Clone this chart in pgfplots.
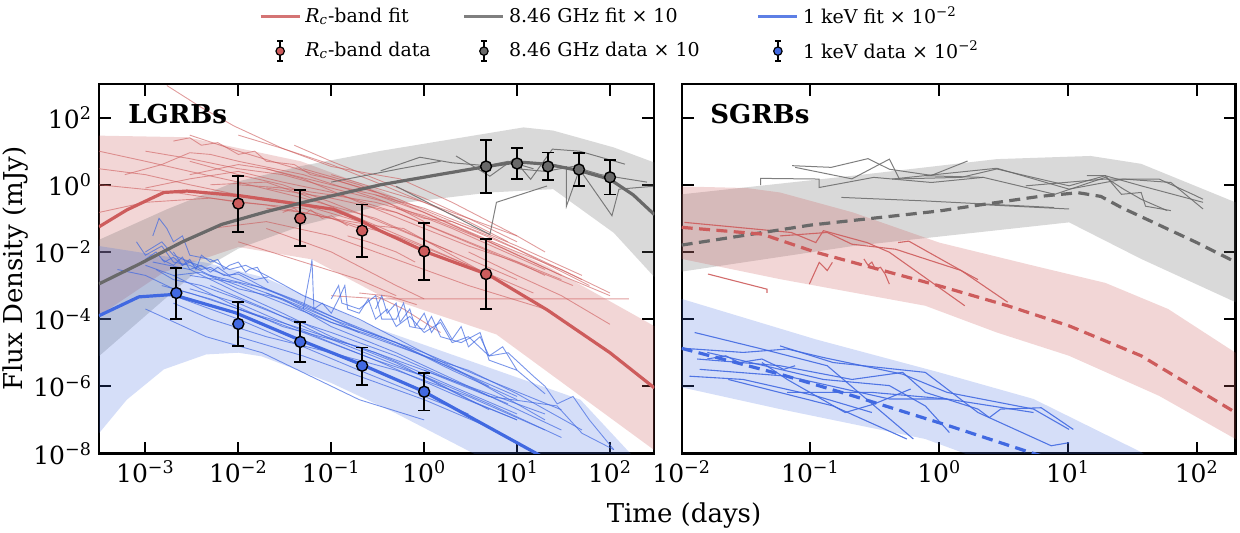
\documentclass[border=0pt]{standalone}
\usepackage{fontspec}
\setmainfont{DejaVu Serif}
\usepackage{pgfplots}
\pgfplotsset{compat=1.18}
\definecolor{cred}{RGB}{205,92,92}
\definecolor{cgray}{RGB}{105,105,105}
\definecolor{cblue}{RGB}{65,105,225}
\pgfplotsset{
  bandR/.style={fill=cred, fill opacity=0.25, draw=none, forget plot},
  bandG/.style={fill=cgray, fill opacity=0.25, draw=none, forget plot},
  bandB/.style={fill=cblue, fill opacity=0.22, draw=none, forget plot},
  thR/.style={cred, line width=0.45pt, opacity=0.6, forget plot},
  thG/.style={cgray, line width=0.5pt, opacity=0.85, forget plot},
  thB/.style={cblue, line width=0.45pt, opacity=0.7, forget plot},
  thRR/.style={cred, line width=0.55pt, opacity=0.9, forget plot},
  thBR/.style={cblue, line width=0.55pt, opacity=0.9, forget plot},
}
\begin{document}
\begin{tikzpicture}
\useasboundingbox (-49.5pt,-39.75pt) rectangle (570.5pt,226.75pt);
% ================= LEFT PANEL =================
\begin{loglogaxis}[scale only axis, width=277.65pt, height=184.75pt,
  xmin=3.1623e-4, xmax=300, ymin=1e-8, ymax=1e3,
  xminorticks=false, yminorticks=false,
  tick align=inside, major tick length=6pt,
  tick style={black, line width=1pt},
  axis line style={line width=1.1pt},
  tick label style={font=\fontsize{12.5}{14}\selectfont},
  ytick={1e-8,1e-6,1e-4,1e-2,1,1e2},
  xtick={1e-3,1e-2,1e-1,1,1e1,1e2},
  xticklabels={10\textsuperscript{−3},10\textsuperscript{−2},10\textsuperscript{−1},10\textsuperscript{0},10\textsuperscript{1},10\textsuperscript{2}},
  yticklabels={10\textsuperscript{−8},10\textsuperscript{−6},10\textsuperscript{−4},10\textsuperscript{−2},10\textsuperscript{0},10\textsuperscript{2}},
  legend columns=3,
  legend cell align=left,
  legend style={at={(0.940,1.222)}, anchor=north, draw=none, fill=none,
    font=\fontsize{9.5}{11}\selectfont, inner sep=0pt, row sep=3pt,
    /tikz/column 2/.style={column sep=14pt},
    /tikz/column 4/.style={column sep=26.5pt}},
]
\addlegendimage{legend image code/.code={\draw[cred, line width=1.6pt, opacity=0.85] (0pt,0pt) -- (19.5pt,0pt);}}
\addlegendimage{legend image code/.code={\draw[cgray, line width=1.6pt, opacity=0.85] (0pt,0pt) -- (19.5pt,0pt);}}
\addlegendimage{legend image code/.code={\draw[cblue, line width=1.6pt, opacity=0.85] (0pt,0pt) -- (19.5pt,0pt);}}
\addlegendimage{legend image code/.code={\draw[black, line width=0.8pt] (9.75pt,-5pt) -- (9.75pt,5pt) (8.25pt,5pt) -- (11.25pt,5pt) (8.25pt,-5pt) -- (11.25pt,-5pt); \filldraw[fill=cred, draw=black, line width=0.6pt] (9.75pt,0pt) circle (2.1pt);}}
\addlegendimage{legend image code/.code={\draw[black, line width=0.8pt] (9.75pt,-5pt) -- (9.75pt,5pt) (8.25pt,5pt) -- (11.25pt,5pt) (8.25pt,-5pt) -- (11.25pt,-5pt); \filldraw[fill=cgray, draw=black, line width=0.6pt] (9.75pt,0pt) circle (2.1pt);}}
\addlegendimage{legend image code/.code={\draw[black, line width=0.8pt] (9.75pt,-5pt) -- (9.75pt,5pt) (8.25pt,5pt) -- (11.25pt,5pt) (8.25pt,-5pt) -- (11.25pt,-5pt); \filldraw[fill=cblue, draw=black, line width=0.6pt] (9.75pt,0pt) circle (2.1pt);}}
\legend{{\textit{R}\textsubscript{\textit{c}}-band fit},{8.46 GHz fit × 10},{1 keV fit × 10\textsuperscript{−2}},{\textit{R}\textsubscript{\textit{c}}-band data},{8.46 GHz data × 10},{1 keV data × 10\textsuperscript{−2}}}

% ---- bands
\addplot[bandR] coordinates {(3.1623e-4,29) (2.8e-3,26) (0.047,5) (0.34,0.66) (21,3.8e-3) (300,6.2e-5)
  (300,1.26e-8) (6,3.5e-5) (0.34,5e-4) (0.062,6e-3) (0.01,0.014) (1.58e-3,2.5e-3) (3.1623e-4,1.26e-4)};
\addplot[bandG] coordinates {(3.1623e-4,0.023) (1.7e-3,0.186) (8.9e-3,1.17) (0.047,3.6) (0.34,10.2) (11.7,51) (24.5,41) (110,12.9) (300,4.6)
  (300,1.8e-3) (110,0.037) (24.5,0.74) (5.1,0.59) (0.34,0.24) (0.05,0.063) (0.01,0.0126) (3.16e-3,2e-3) (1e-3,1.26e-4) (3.1623e-4,7.9e-6)};
\addplot[bandB] coordinates {(3.1623e-4,0.015) (4.5e-3,4.8e-3) (0.0195,1.7e-3) (0.34,4.9e-5) (48,4e-7) (166,1e-8) (300,2.5e-9)
  (300,1e-10) (10,2e-9) (3.7,8.9e-9) (0.49,1.6e-7) (0.1,1.26e-6) (0.0178,7.8e-6) (0.01,1e-5) (4.5e-3,8.9e-6) (1.58e-3,3.2e-6) (6.3e-4,4e-7) (3.1623e-4,4e-8)};

% ---- thin R-band light curves
\addplot[thR] coordinates {(1.7e-3,900) (4e-3,200) (9e-3,56) (0.03,12) (0.1,3.5) (0.3,2) (0.55,1.5) (2,0.3) (10,0.03)};
\addplot[thR] coordinates {(3.1623e-4,10) (1e-3,5) (3e-3,2.5) (0.01,1.2) (0.05,0.4) (0.3,0.1) (2,0.01) (10,1.5e-3)};
\addplot[thR] coordinates {(6e-4,2) (1.5e-3,4) (3e-3,9) (5e-3,8) (0.01,5) (0.05,2) (0.3,0.4) (2,0.05) (20,3e-3)};
\addplot[thR] coordinates {(1e-3,0.8) (3e-3,1.5) (0.01,2.5) (0.03,1.2) (0.1,0.6) (0.5,0.15) (3,0.02) (30,1.5e-3)};
\addplot[thR] coordinates {(3.1623e-4,0.15) (1e-3,0.3) (5e-3,0.4) (0.02,0.25) (0.1,0.1) (0.5,0.03) (3,4e-3) (15,6e-4)};
\addplot[thR] coordinates {(3e-3,30) (0.01,10) (0.03,4) (0.1,1.5) (0.5,0.4) (2,0.08) (10,0.012) (60,1e-3)};
\addplot[thR] coordinates {(5e-3,0.05) (0.02,0.08) (0.1,0.03) (0.5,6e-3) (3,1e-3) (20,2e-4)};
\addplot[thR] coordinates {(0.01,1) (0.03,0.8) (0.1,0.5) (0.3,0.3) (1,0.12) (5,0.02) (30,2e-3) (100,5e-4)};
\addplot[thR] coordinates {(0.02,3) (0.1,1) (0.3,0.5) (1,0.2) (3,0.06) (10,0.015) (50,2e-3)};
\addplot[thR] coordinates {(0.04,15) (0.1,5) (0.3,1.5) (1,0.4) (3,0.1) (10,0.02)};
\addplot[thR] coordinates {(0.01,0.02) (0.05,5e-3) (0.2,1.5e-3) (0.5,5e-4)};
\addplot[thR] coordinates {(0.1,5e-4) (0.34,4e-4) (160,4e-4)};
\addplot[thR] coordinates {(0.3,0.5) (1,0.15) (3,0.04) (10,0.01) (30,3e-3) (100,6e-4)};
\addplot[thR] coordinates {(1,0.05) (3,0.015) (10,5e-3) (20,2e-3)};
\addplot[thR] coordinates {(0.02,0.2) (0.05,0.15) (0.1,0.1) (0.3,0.06) (0.6,0.05) (2,8e-3) (5,2e-3)};
\addplot[thR] coordinates {(0.15,0.03) (0.25,0.02) (0.5,0.01) (0.8,5e-3)};
\addplot[thR] coordinates {(3e-3,2) (0.01,4) (0.02,3) (0.05,1.5) (0.2,0.3) (1,0.05)};
\addplot[thR] coordinates {(0.01,30) (0.03,12) (0.1,4) (0.3,1.2) (1,0.3) (3,0.08) (8,0.02)};
\addplot[thR] coordinates {(5e-3,1) (0.02,1.2) (0.05,0.5) (0.2,0.1) (1,0.015) (3,4e-3)};
\addplot[thR] coordinates {(0.02,0.8) (0.1,0.4) (0.5,0.15) (2,0.03) (8,6e-3) (40,1e-3)};
\addplot[thR] coordinates {(0.1,2) (0.3,0.8) (1,0.3) (3,0.1) (10,0.03) (20,0.01)};
\addplot[thR] coordinates {(0.5,0.2) (1,0.1) (2,0.08) (5,0.03) (20,5e-3) (50,1.5e-3)};
\addplot[thR] coordinates {(0.03,0.15) (0.04,0.2) (0.05,0.12) (0.06,0.18) (0.08,0.1) (0.1,0.12) (0.15,0.06)};
\addplot[thR] coordinates {(3.1623e-4,3) (1e-3,2) (3e-3,1) (0.01,0.5) (0.04,0.3) (0.2,0.08)};
\addplot[thR] coordinates {(0.02,0.05) (0.1,0.01) (0.5,1e-3) (1,4e-4)};
\addplot[thR] coordinates {(0.2,6e-4) (0.43,4.8e-4) (0.83,2.7e-4)};
\addplot[thR] coordinates {(0.3,5e-4) (0.6,2e-4) (1.5,4e-5)};
\addplot[thR] coordinates {(3,0.01) (10,2e-3) (30,5e-4) (100,7e-5)};
\addplot[thR] coordinates {(3.1623e-4,1) (2e-3,0.6) (0.01,0.3) (0.05,0.2) (0.2,0.05)};
\addplot[thR] coordinates {(2e-3,20) (3e-3,25) (4e-3,15) (6e-3,18) (0.01,8) (0.015,10) (0.02,5) (0.04,4) (0.06,2) (0.1,1.5) (0.3,0.6)};
\addplot[thR] coordinates {(3e-3,5) (0.01,2) (0.03,1) (0.1,0.3) (0.5,0.05) (2,0.01)};
\addplot[thR] coordinates {(0.05,3) (0.2,1) (1,0.15) (5,0.02) (30,2e-3)};
\addplot[thR] coordinates {(1e-3,10) (3e-3,6) (0.01,3) (0.03,2) (0.1,0.8) (0.4,0.3) (1,0.08)};

% ---- thin X-ray light curves
\addplot[thB] coordinates {(1.2e-3,0.03) (1.4e-3,0.1) (1.7e-3,0.05) (2e-3,0.02) (2.5e-3,0.03) (3e-3,8e-3) (5e-3,6e-3) (8e-3,3e-3) (0.012,4e-3) (0.02,2e-3) (0.05,5e-4) (0.2,1e-4) (1,1e-5) (5,1e-6)};
\addplot[thB] coordinates {(2e-3,0.01) (2.5e-3,0.004) (3e-3,0.006) (3.5e-3,0.003) (4e-3,0.008) (5e-3,0.005) (6e-3,0.006) (7e-3,0.003) (8e-3,0.004) (0.01,0.005) (0.012,0.0025) (0.013,0.003) (0.016,0.0035) (0.018,0.002) (0.021,0.0012)};
\addplot[thB] coordinates {(1.5e-3,6e-3) (2e-3,4e-3) (2.5e-3,7e-3) (3e-3,3e-3) (4e-3,4e-3) (5e-3,2.5e-3) (6e-3,3.5e-3) (8e-3,2e-3) (0.01,2.5e-3) (0.015,1.5e-3) (0.021,1.8e-3)};
\addplot[thB] coordinates {(8e-4,0.02) (1e-3,8e-3) (1.5e-3,0.015) (2e-3,5e-3) (3e-3,4e-3) (5e-3,2e-3) (0.01,1e-3) (0.03,3e-4) (0.1,8e-5) (1,8e-6) (10,5e-7)};
\addplot[thB] coordinates {(1e-3,4e-3) (2e-3,2e-3) (4e-3,2.5e-3) (0.01,8e-4) (0.03,4e-4) (0.1,1e-4) (0.5,2e-5) (3,2e-6) (20,1e-7)};
\addplot[thB] coordinates {(1.5e-3,1e-3) (3e-3,6e-4) (0.01,2e-4) (0.05,5e-5) (0.3,1e-5) (2,1e-6) (10,1.5e-7)};
\addplot[thB] coordinates {(2e-3,3e-4) (5e-3,1e-4) (0.02,3e-5) (0.1,1e-5) (0.5,3e-6) (3,5e-7) (20,5e-8)};
\addplot[thB] coordinates {(1e-3,2e-4) (4.5e-3,3e-5) (0.018,1e-5) (0.2,4e-7) (1,1e-7)};
\addplot[thB] coordinates {(2e-3,5e-4) (0.01,1e-4) (0.05,1.5e-5) (0.2,3e-6) (1,5e-7) (3,1.5e-7)};
\addplot[thB] coordinates {(0.01,3e-5) (0.05,8e-6) (0.2,2e-6) (1,4e-7) (5,6e-8)};
\addplot[thB] coordinates {(0.05,2e-4) (0.06,3e-3) (0.062,6e-3) (0.065,2e-4) (0.08,3e-4) (0.1,1.5e-4) (0.12,4e-4) (0.14,1e-3) (0.15,2e-4) (0.2,1.5e-4) (0.25,4e-4) (0.3,1e-4) (0.4,2e-4) (0.5,6e-5) (0.7,1.2e-4) (1,4e-5) (1.5,8e-5) (2,2e-5) (3,3e-5) (5,8e-6) (8,1e-5) (15,2e-6) (20,1e-6) (27,3e-7) (40,5e-7) (60,1e-7) (110,1.3e-8)};
\addplot[thB] coordinates {(0.1,4e-4) (0.12,1e-3) (0.13,3e-4) (0.2,2e-4) (0.3,5e-4) (0.35,1e-4) (0.5,1e-4) (0.6,3e-4) (0.7,6e-5) (1,5e-5) (1.2,1.2e-4) (1.5,3e-5) (2.5,2e-5) (4,4e-5) (5,6e-6) (10,3e-6) (20,6e-7)};
\addplot[thB] coordinates {(3e-3,2e-3) (0.01,1.2e-3) (0.03,4e-4) (0.1,6e-5) (0.5,1e-5) (3,1e-6) (30,5e-8)};
\addplot[thB] coordinates {(1.2e-3,5e-3) (3e-3,3e-3) (0.01,6e-4) (0.03,1.5e-4) (0.1,3e-5) (0.5,5e-6) (3,4e-7) (10,1e-7)};
\addplot[thB] coordinates {(5e-3,2e-3) (0.02,8e-4) (0.05,3e-4) (0.2,5e-5) (1,1e-5) (5,1.5e-6) (30,2e-7)};
\addplot[thB] coordinates {(2e-3,2e-3) (8e-3,3e-4) (0.03,6e-5) (0.2,1.5e-5) (2,1.5e-6) (20,1.5e-7)};
\addplot[thB] coordinates {(0.01,2e-4) (0.05,4e-5) (0.3,6e-6) (2,6e-7) (10,1e-7)};
\addplot[thB] coordinates {(5e-4,3e-3) (1e-3,2e-3) (2e-3,8e-4) (5e-3,4e-4) (0.02,1e-4)};
\addplot[thB] coordinates {(1,3e-6) (5,5e-7) (27,2.6e-7) (50,4e-8) (110,1.3e-8)};
\addplot[thB] coordinates {(1e-3,1e-2) (1.5e-3,2e-2) (2e-3,8e-3) (3e-3,5e-3) (5e-3,3e-3) (0.01,1.5e-3) (0.03,5e-4) (0.1,1.2e-4) (0.5,2e-5) (2,3e-6) (10,4e-7)};
\addplot[thB] coordinates {(1.3e-3,3e-3) (2e-3,1.5e-3) (4e-3,1e-3) (0.01,4e-4) (0.03,1.2e-4) (0.1,4e-5) (0.5,8e-6) (2,1.5e-6) (8,3e-7)};
\addplot[thB] coordinates {(3e-3,8e-4) (0.01,3e-4) (0.03,8e-5) (0.1,2e-5) (0.3,6e-6) (1,2e-6) (5,3e-7) (30,3e-8)};
\addplot[thB] coordinates {(1e-3,6e-3) (1.3e-3,1e-2) (1.6e-3,5e-3) (2e-3,7e-3) (2.5e-3,4e-3) (3e-3,5e-3) (4e-3,3e-3) (5e-3,3.5e-3) (7e-3,2e-3) (0.01,2.2e-3) (0.02,8e-4) (0.05,2.5e-4) (0.2,4e-5)};
\addplot[thB] coordinates {(0.02,6e-4) (0.05,2e-4) (0.1,8e-5) (0.3,3e-5) (1,8e-6) (3,3e-6) (10,6e-7) (50,5e-8)};
\addplot[thB] coordinates {(0.3,2e-4) (0.35,5e-4) (0.4,1.5e-4) (0.5,3e-4) (0.55,8e-5) (0.7,2e-4) (0.8,6e-5) (1,1.5e-4) (1.2,4e-5) (1.5,1e-4) (2,2.5e-5) (2.5,6e-5) (3,1.5e-5) (4,3e-5) (5,8e-6) (7,1.5e-5) (10,3e-6)};
\addplot[thB] coordinates {(0.005,1e-3) (0.02,2e-4) (0.1,2.5e-5) (1,2e-6) (5,2e-7)};

% ---- thin radio light curves
\addplot[thG] coordinates {(0.34,2.6) (0.9,6.6) (2,4.5) (4.7,3.7) (8,5) (15,3)};
\addplot[thG] coordinates {(2.2,7.2) (5.1,1.8) (9.2,5.8) (14,1.45) (24,11.5) (47,10) (145,4.1)};
\addplot[thG] coordinates {(34,3.6) (34,0.23) (47,2.9) (105,0.12) (125,0.74) (290,0.9)};
\addplot[thG] coordinates {(0.5,0.9) (5.1,0.033) (6,0.3) (21,0.92)};
\addplot[thG] coordinates {(0.1,1.2) (0.55,3) (1.5,5)};
\addplot[thG] coordinates {(10,3) (20,2.5) (40,3.5) (80,2) (150,1.5) (250,1.2)};

% ---- fits
\addplot[cred, line width=1.6pt, forget plot] coordinates {(3.1623e-4,0.056) (6.3e-4,0.178) (1.58e-3,0.59) (2.8e-3,0.65) (0.0105,0.47) (0.047,0.26) (0.105,0.186) (0.2,0.089) (0.34,0.042) (0.55,0.023) (1.05,0.01) (4.9,2.1e-3) (21,1.9e-4) (100,1e-5) (300,9e-7)};
\addplot[cgray, line width=1.6pt, forget plot] coordinates {(3.1623e-4,1.12e-3) (8.5e-4,4.3e-3) (2.5e-3,0.02) (6.6e-3,0.066) (0.02,0.158) (0.058,0.33) (0.34,1.0) (1.58,2.1) (4.7,3.5) (10,4.8) (21,4.1) (48,2.6) (100,1.45) (178,0.5) (300,0.13)};
\addplot[cblue, line width=1.6pt, forget plot] coordinates {(3.1623e-4,1.26e-4) (8.5e-4,4.6e-4) (1.95e-3,5.4e-4) (9.3e-3,1.55e-4) (0.045,2.45e-5) (0.214,4.4e-6) (1,6.9e-7) (16.2,1e-8) (40,2.5e-9)};

% ---- data
\addplot[only marks, mark=*, mark size=2.75pt, forget plot,
    mark options={fill=cred, draw=black, line width=0.7pt},
    error bars/.cd, y dir=both, y explicit,
    error bar style={black, line width=0.9pt},
    error mark options={rotate=90, black, line width=0.9pt, mark size=3pt}]
  table[row sep=\\, x=t, y=f, y error plus=ep, y error minus=em] {
t f ep em \\
0.01 0.275 1.525 0.236 \\
0.0464 0.10 0.60 0.085 \\
0.215 0.043 0.217 0.036 \\
1.0 0.0105 0.0605 0.009 \\
4.64 0.0022 0.0218 0.002 \\
};
\addplot[only marks, mark=*, mark size=2.75pt, forget plot,
    mark options={fill=cgray, draw=black, line width=0.7pt},
    error bars/.cd, y dir=both, y explicit,
    error bar style={black, line width=0.9pt},
    error mark options={rotate=90, black, line width=0.9pt, mark size=3pt}]
  table[row sep=\\, x=t, y=f, y error plus=ep, y error minus=em] {
t f ep em \\
4.64 3.5 18.3 2.94 \\
10 4.3 8.0 2.84 \\
21.5 3.5 5.6 2.14 \\
46.4 2.85 5.85 1.95 \\
100 1.67 3.73 1.16 \\
};
\addplot[only marks, mark=*, mark size=2.75pt, forget plot,
    mark options={fill=cblue, draw=black, line width=0.7pt},
    error bars/.cd, y dir=both, y explicit,
    error bar style={black, line width=0.9pt},
    error mark options={rotate=90, black, line width=0.9pt, mark size=3pt}]
  table[row sep=\\, x=t, y=f, y error plus=ep, y error minus=em] {
t f ep em \\
0.00215 6.0e-4 2.8e-3 4.97e-4 \\
0.01 7.2e-5 2.58e-4 5.65e-5 \\
0.0464 2.1e-5 6.2e-5 1.56e-5 \\
0.215 4.1e-6 1.03e-5 3.0e-6 \\
1.0 6.9e-7 1.81e-6 5.0e-7 \\
};
\node[anchor=base west, inner sep=0pt, font=\fontsize{13}{15}\selectfont\bfseries] at (rel axis cs:0.052,0.894) {LGRBs};
\end{loglogaxis}

% ================= RIGHT PANEL =================
\begin{loglogaxis}[at={(291.35pt,0pt)}, anchor=south west,
  scale only axis, width=276.9pt, height=184.75pt,
  xmin=0.01, xmax=200, ymin=1e-8, ymax=1e3,
  xminorticks=false, yminorticks=false,
  tick align=inside, major tick length=6pt,
  tick style={black, line width=1pt},
  axis line style={line width=1.1pt},
  tick label style={font=\fontsize{12.5}{14}\selectfont},
  ytick={1e-8,1e-6,1e-4,1e-2,1,1e2},
  xtick={1e-2,1e-1,1,1e1,1e2},
  xticklabels={10\textsuperscript{−2},10\textsuperscript{−1},10\textsuperscript{0},10\textsuperscript{1},10\textsuperscript{2}},
  yticklabels={},
]
\addplot[bandG] coordinates {(0.01,0.52) (0.214,1.86) (2.8,5.8) (15,7.2) (37,4.2) (200,0.3)
  (200,3.2e-4) (37,6.2e-3) (10.2,0.076) (0.214,0.015) (0.01,2.6e-3)};
\addplot[bandR] coordinates {(0.01,0.89) (0.032,0.8) (0.058,0.59) (0.214,0.15) (1,0.019) (5.4,3.9e-3) (19.5,1.2e-3) (60,2e-4) (200,1e-5)
  (200,2.7e-8) (51,5.2e-7) (10.2,8.1e-6) (2.8,4e-5) (0.78,2.5e-4) (0.058,1.55e-3) (0.01,6.2e-3)};
\addplot[bandB] coordinates {(0.01,4e-4) (0.11,2.5e-5) (1,2.6e-6) (5.4,4.2e-7) (37,1.1e-8) (200,1e-10)
  (200,1e-11) (2.5,5e-9) (1.48,1.1e-8) (0.78,2.7e-8) (0.058,2.1e-7) (0.01,9.3e-7)};

% radio
\addplot[thG] coordinates {(0.072,3.7) (0.145,3.3) (0.28,6.0) (0.41,2.9) (0.87,1.9) (1.66,5.1)};
\addplot[thG] coordinates {(0.076,3.3) (0.21,1.5) (0.41,5.8) (0.49,1.5) (1.48,1.66) (2.8,2.95) (10.2,0.93) (19.5,1.86) (37,0.93) (112,0.30)};
\addplot[thG] coordinates {(0.041,0.98) (0.041,1.55) (0.117,1.48) (0.117,0.83) (0.31,1.66) (0.87,1.17) (2.2,1.66)};
\addplot[thG] coordinates {(0.174,0.42) (0.78,0.33) (7.8,0.21)};
\addplot[thG] coordinates {(0.43,1.48) (2.8,3.1) (10.2,0.74) (27,1.48) (63,1.17) (112,0.19)};
\addplot[thG] coordinates {(0.78,1.86) (2.2,1.66) (7.9,0.52) (19.5,1.66) (27,0.74) (37,0.37) (59,0.17)};
\addplot[thG] coordinates {(4.7,0.93) (19.5,1.48) (51,1.48) (93,0.52) (112,0.37)};
\addplot[thG] coordinates {(2.0,0.26) (10.2,0.19)};
\addplot[thG] coordinates {(14,1.86) (19.5,1.86) (26,0.52) (37,0.59) (40,0.23) (63,0.17)};
% optical
\addplot[thRR] coordinates {(0.0105,0.076) (0.071,0.038) (0.11,0.019) (0.126,0.043) (0.275,0.019) (0.41,0.0098) (1.58,2.5e-4)};
\addplot[thRR] coordinates {(0.058,0.030) (0.135,0.038) (0.21,0.017) (0.46,0.012) (0.78,0.0062) (1.48,0.0028) (3.4,3.2e-4)};
\addplot[thRR] coordinates {(0.48,0.019) (0.58,0.021) (1.48,0.0028) (2.0,0.0015)};
\addplot[thRR] coordinates {(0.098,0.0011) (0.117,0.0049) (0.135,0.0028) (0.148,0.0049)};
\addplot[thRR] coordinates {(0.26,0.0062) (0.28,0.004) (0.3,0.005) (0.32,0.003) (0.35,0.0035) (0.38,0.0022) (0.41,0.0011)};
\addplot[thRR] coordinates {(0.016,0.0022) (0.046,7.8e-4) (0.046,6e-4)};
% X-ray
\addplot[thBR] coordinates {(0.0126,4e-5) (0.042,1.29e-5) (0.135,4.1e-6) (0.63,2.7e-8)};
\addplot[thBR] coordinates {(0.0105,1.35e-5) (0.030,1.02e-5) (0.066,1.29e-5) (0.126,7.2e-6) (0.52,2.3e-6) (1.15,6.6e-7) (5.4,2.1e-7) (10.2,5.2e-8)};
\addplot[thBR] coordinates {(0.0132,6.5e-6) (0.058,4.1e-6) (0.21,1.6e-6) (0.52,2.6e-6) (0.78,6.6e-7) (2.0,2.1e-7) (2.45,1.17e-7) (3.0,2.1e-7) (6.2,2.3e-7) (11,5.2e-8)};
\addplot[thBR] coordinates {(0.0138,3.2e-6) (0.066,2.0e-6) (0.41,4.2e-7) (1.15,4.2e-7) (5.4,1.66e-7)};
\addplot[thBR] coordinates {(0.023,1.6e-6) (0.15,2.6e-7) (0.56,2.7e-8)};
\addplot[thBR] coordinates {(0.066,6.6e-7) (0.30,6.6e-7) (1.15,4.2e-7)};
\addplot[thBR] coordinates {(0.0158,1.02e-5) (0.058,3.2e-6) (0.126,1.6e-6) (0.41,1.05e-6) (0.78,2.6e-7) (1.2,4.2e-8)};
\addplot[thBR] coordinates {(0.042,5.1e-6) (0.066,1.6e-6) (0.186,1.66e-7) (0.31,2.95e-7) (0.60,8.3e-7)};
\addplot[thBR] coordinates {(0.058,1.6e-5) (0.15,5.1e-6) (0.78,2.6e-6) (2.0,1.66e-7) (7.4,1.7e-8) (10.2,2.1e-8)};
\addplot[thBR] coordinates {(0.0115,2.0e-6) (0.030,1.6e-6) (0.11,5.2e-7) (0.30,1.66e-7)};
\addplot[thBR] coordinates {(0.0158,6.5e-6) (0.022,8.1e-6) (0.028,5.1e-6) (0.042,6.5e-6) (0.062,3.2e-6) (0.076,4.1e-6)};

% fits
\addplot[cgray, line width=1.6pt, dash pattern=on 5.5pt off 3.2pt, forget plot] coordinates {(0.01,0.016) (0.1,0.063) (1,0.166) (2.2,0.26) (6,0.45) (12,0.58) (18,0.45) (26,0.21) (46,0.076) (100,0.019) (200,5e-3)};
\addplot[cred, line width=1.6pt, dash pattern=on 5.5pt off 3.2pt, forget plot] coordinates {(0.01,0.054) (0.042,0.034) (0.11,9.8e-3) (1,9.8e-4) (3.4,2.5e-4) (10.2,6.3e-5) (37,8.1e-6) (200,1.66e-7)};
\addplot[cblue, line width=1.6pt, dash pattern=on 5.5pt off 3.2pt, forget plot] coordinates {(0.01,1.35e-5) (0.058,2.3e-6) (0.214,5.2e-7) (1.2,6.6e-8) (5,1.1e-8) (8,6.3e-9)};
\node[anchor=base west, inner sep=0pt, font=\fontsize{13}{15}\selectfont\bfseries] at (rel axis cs:0.051,0.894) {SGRBs};
\end{loglogaxis}

\node[rotate=90, font=\fontsize{13}{15}\selectfont] at (-41.5pt,92.4pt) {Flux Density (mJy)};
\node[anchor=base, font=\fontsize{13}{15}\selectfont] at (292.5pt,-34.75pt) {Time (days)};
\end{tikzpicture}
\end{document}
